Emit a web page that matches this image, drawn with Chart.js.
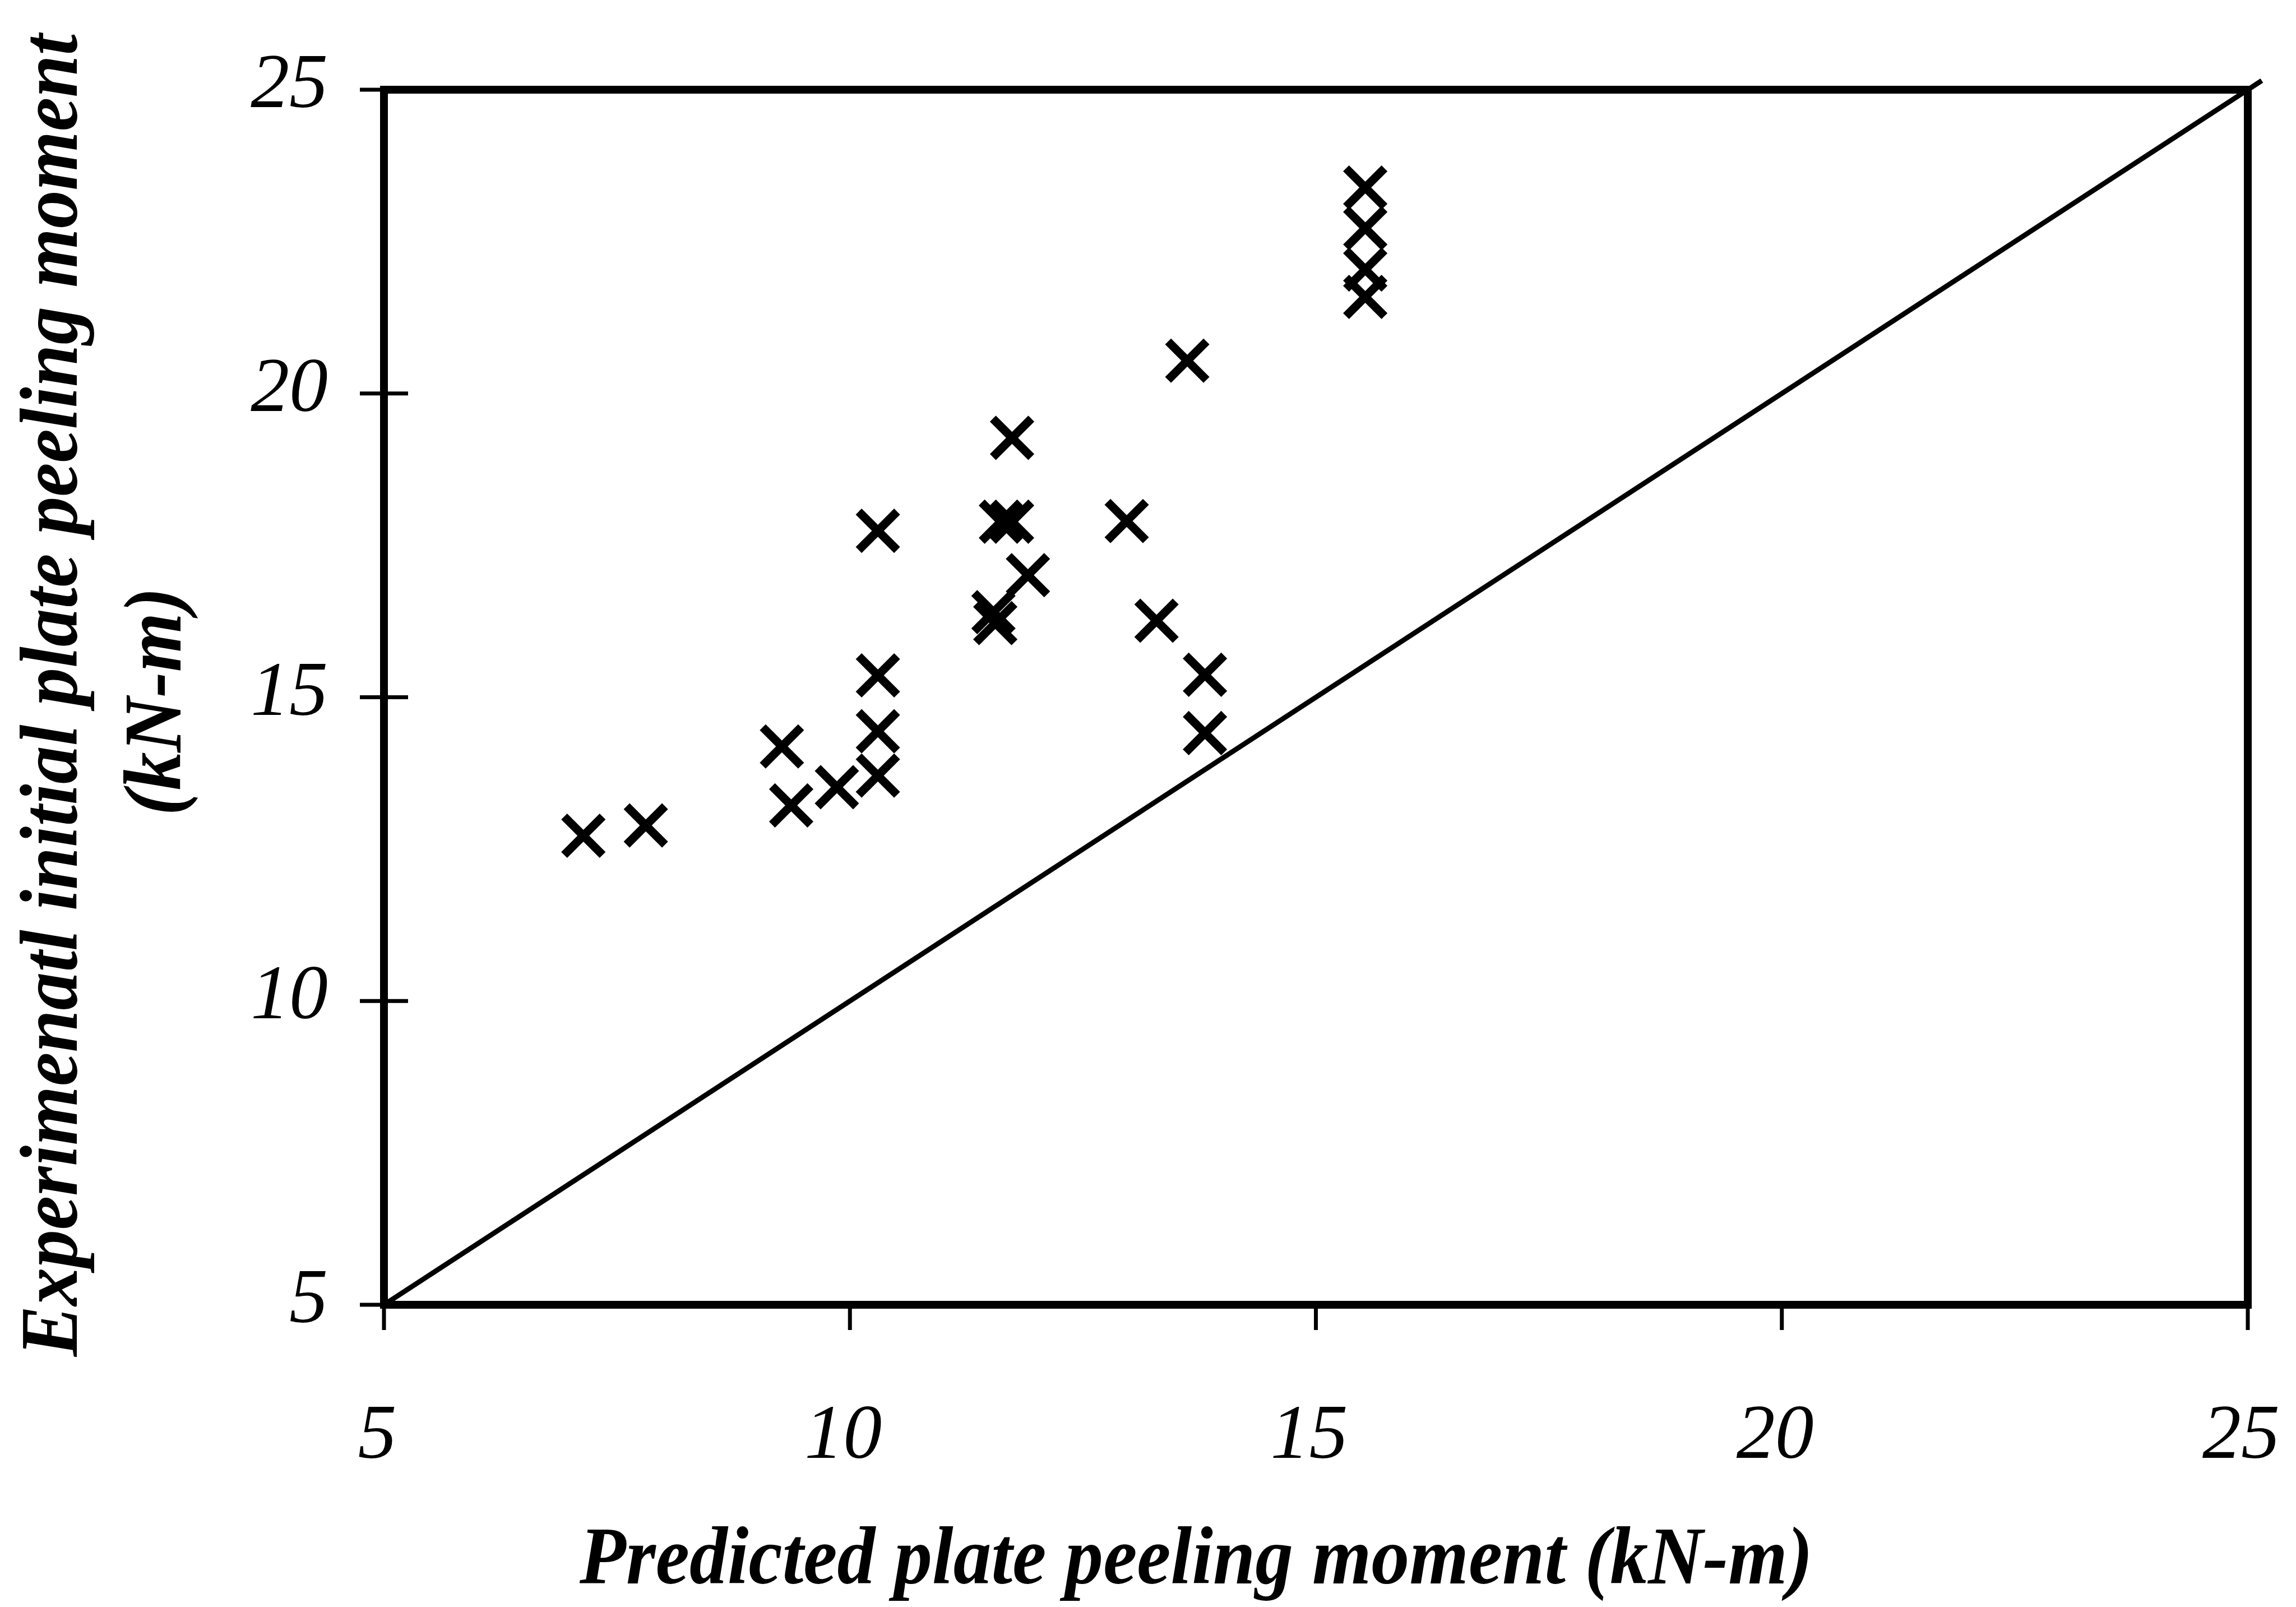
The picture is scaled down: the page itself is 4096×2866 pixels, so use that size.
<!DOCTYPE html>
<html>
<head>
<meta charset="utf-8">
<script src="https://cdn.jsdelivr.net/npm/chart.js@4"></script>
<style>
  html, body { margin: 0; padding: 0; background: #fff; overflow: hidden; }
  #wrap { width: 4096px; height: 2866px; }
</style>
</head>
<body>
<div id="wrap"><canvas id="peelChart"></canvas></div>
<script>
    // values (kN-m)
    const predicted = [7.14, 7.81, 9.27, 9.37, 9.86, 10.30, 10.30, 10.30, 10.30, 11.62, 11.74, 11.74,
      11.91, 11.54, 11.56, 12.97, 13.29, 13.62, 13.81, 13.81, 15.53, 15.53, 15.53, 15.53];
    const experimental = [12.72, 12.89, 14.19, 13.22, 13.52, 17.74, 15.36, 14.44, 13.71, 17.89, 19.27, 17.89,
      17.01, 16.40, 16.22, 17.90, 16.26, 20.54, 15.37, 14.41, 23.39, 22.72, 22.04, 21.59];

    // y = x reference line
    const diagX = [5, 25.15];
    const diagY = [5, 25.15];

    const xTicks = [5, 10, 15, 20, 25];
    const yTicks = [5, 10, 15, 20, 25];

    const xTitle = 'Predicted plate peeling moment (kN-m)';
    const yTitle = ['Experimenatl initial plate peeling moment', '(kN-m)'];

    const S = 0.999;
    const serif = '"Liberation Serif", "Times New Roman", serif';

    function drawTitle(ctx, text, x, y, rot) {
      ctx.save();
      ctx.translate(x, y);
      ctx.rotate(rot);
      ctx.scale(0.93, 1);
      ctx.textAlign = 'center';
      ctx.textBaseline = 'alphabetic';
      ctx.fillText(text, 0, 0);
      ctx.restore();
    }

    // no extra room for overhanging tick labels, layout padding decides the plot box
    function noPad(scale) {
      scale.paddingLeft = 0;
      scale.paddingRight = 0;
      scale.paddingTop = 0;
      scale.paddingBottom = 0;
    }

    const framePlugin = {
      id: 'frame',
      afterDatasetsDraw(chart) {
        const { ctx, chartArea: a, scales: { x, y } } = chart;
        ctx.save();
        ctx.strokeStyle = '#000';
        ctx.lineWidth = 14 * S;
        ctx.strokeRect(a.left, a.top, a.right - a.left, a.bottom - a.top);

        ctx.lineWidth = 7 * S;
        ctx.beginPath();
        xTicks.forEach(v => {
          const px = x.getPixelForValue(v);
          ctx.moveTo(px, a.bottom);
          ctx.lineTo(px, a.bottom + 45 * S);
        });
        yTicks.forEach(v => {
          const py = y.getPixelForValue(v);
          ctx.moveTo(a.left - 43 * S, py);
          ctx.lineTo(a.left + 43 * S, py);
        });
        ctx.stroke();

        ctx.fillStyle = '#000';
        ctx.font = `italic bold ${146 * S}px ${serif}`;
        drawTitle(ctx, xTitle, 2134, 2824, 0);
        drawTitle(ctx, yTitle[0], 137, 1240, -Math.PI / 2);
        drawTitle(ctx, yTitle[1], 322, 1251, -Math.PI / 2);
        ctx.restore();
      }
    };

    const points = predicted.map((p, i) => ({ x: p, y: experimental[i] }));
    const diag = diagX.map((v, i) => ({ x: v, y: diagY[i] }));

    const tickFont = { family: serif, size: 138 * S, style: 'italic' };

    new Chart(document.getElementById('peelChart'), {
      type: 'scatter',
      data: {
        datasets: [
          {
            type: 'line',
            data: diag,
            borderColor: '#000',
            borderWidth: 9 * S,
            pointRadius: 0,
            fill: false,
            clip: false
          },
          {
            data: points,
            pointStyle: 'crossRot',
            pointRadius: 48.5 * S,
            pointBorderWidth: 15 * S,
            pointBorderColor: '#000',
            pointBackgroundColor: '#000'
          }
        ]
      },
      options: {
        responsive: true,
        maintainAspectRatio: false,
        devicePixelRatio: 1,
        animation: false,
        events: [],
        layout: { padding: { left: 0, top: 160, right: 86, bottom: 0 } },
        plugins: { legend: { display: false }, tooltip: { enabled: false } },
        scales: {
          x: {
            type: 'linear',
            min: 5, max: 25,
            grid: { display: false, drawTicks: false },
            border: { display: false },
            afterFit(scale) { scale.height = 539; noPad(scale); },
            afterBuildTicks(scale) { scale.ticks = xTicks.map(v => ({ value: v })); },
            ticks: {
              font: tickFont, color: '#000', padding: 154,
              labelOffset: -12, maxRotation: 0, autoSkip: false
            }
          },
          y: {
            type: 'linear',
            min: 5, max: 25,
            grid: { display: false, drawTicks: false },
            border: { display: false },
            afterFit(scale) { scale.width = 685; noPad(scale); },
            afterBuildTicks(scale) { scale.ticks = yTicks.map(v => ({ value: v })); },
            ticks: {
              font: tickFont, color: '#000', padding: 100,
              labelOffset: -5, autoSkip: false
            }
          }
        }
      },
      plugins: [framePlugin]
    });
</script>
</body>
</html>
